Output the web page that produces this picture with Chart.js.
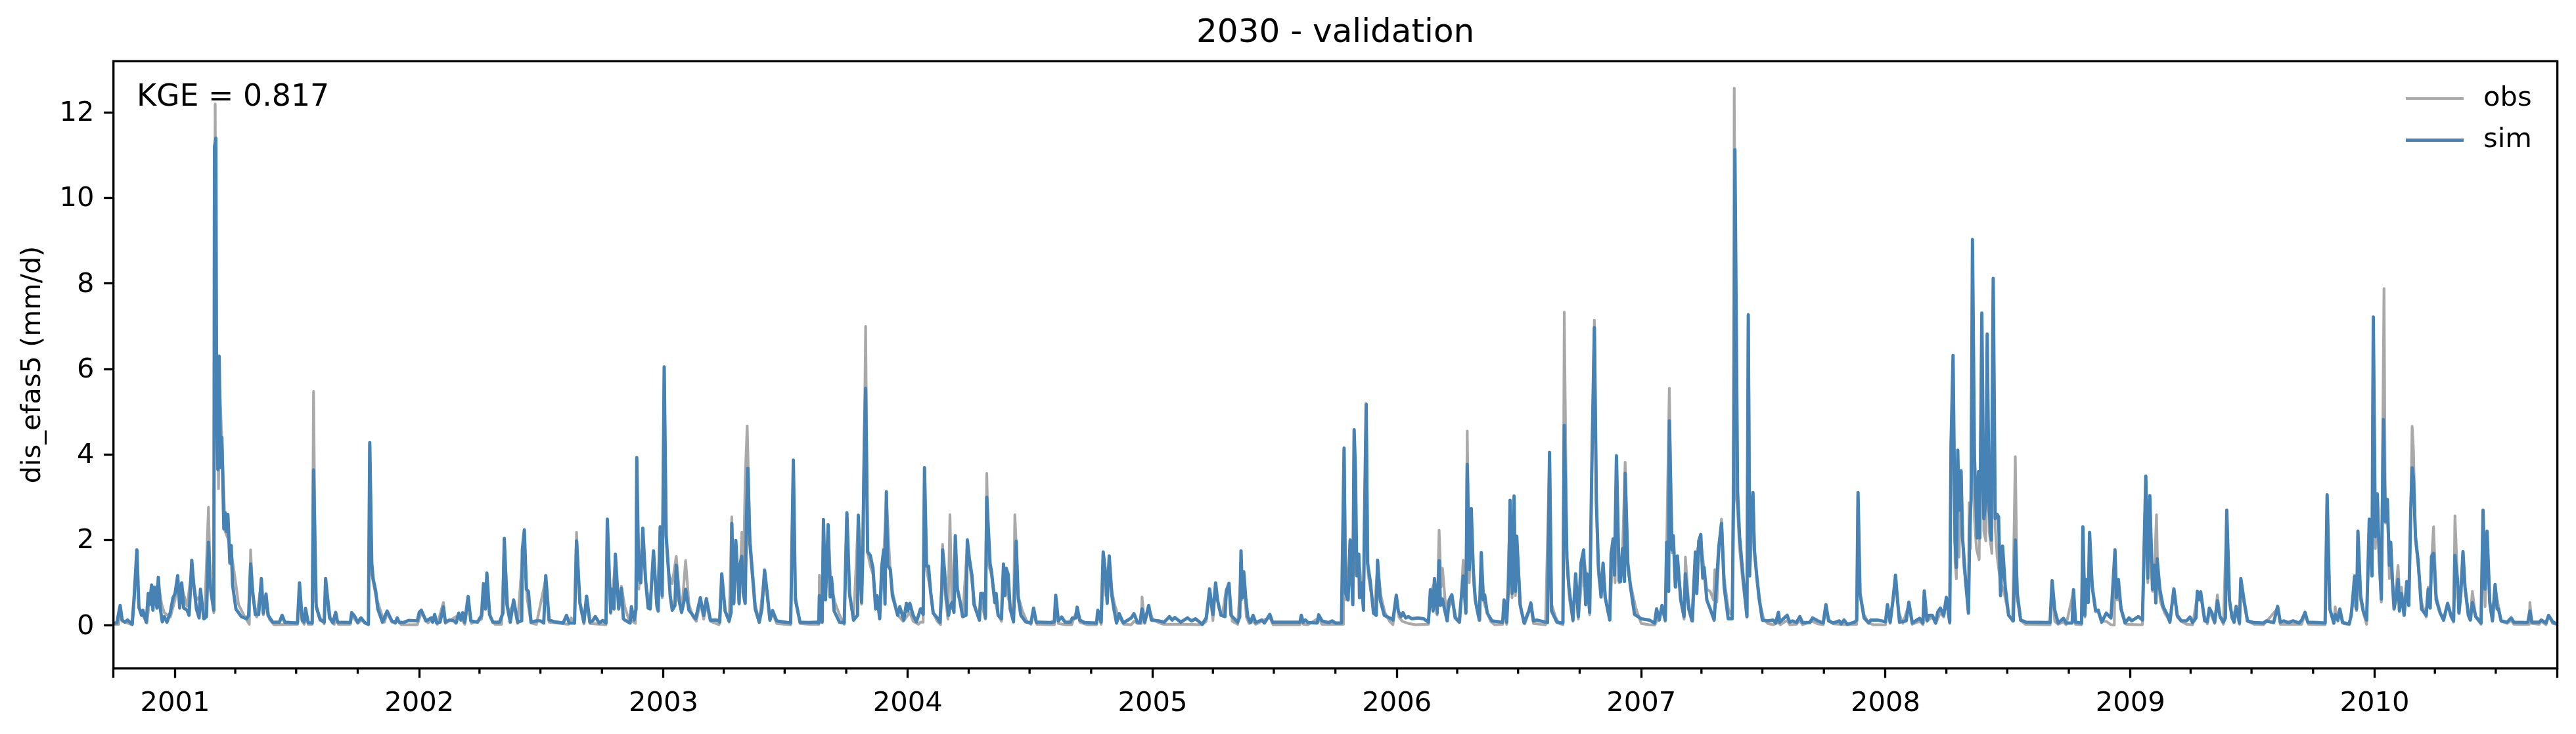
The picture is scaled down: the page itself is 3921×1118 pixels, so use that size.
<!DOCTYPE html>
<html>
<head>
<meta charset="utf-8">
<title>2030 - validation</title>
<script src="https://cdn.jsdelivr.net/npm/chart.js@4/dist/chart.umd.js"></script>
<style>
  html, body { margin: 0; padding: 0; background: #fff; }
  canvas { display: block; }
</style>
</head>
<body>
<canvas id="chart" width="3921" height="1118"></canvas>
<script>
// all days are counted from 2000-10-01
const yearDays = [92, 457, 822, 1187, 1553, 1918, 2283, 2648, 3014, 3379];
const yearLabels = ["2001", "2002", "2003", "2004", "2005", "2006", "2007", "2008", "2009", "2010"];
const quarterDays = [182, 273, 365, 547, 638, 730, 912, 1003, 1095, 1278, 1369, 1461, 1643, 1734, 1826,
  2008, 2099, 2191, 2373, 2464, 2556, 2739, 2830, 2922, 3104, 3195, 3287, 3469, 3560];
const yTicks = [0, 2, 4, 6, 8, 10, 12];

const simDays = [
  0, 5, 10, 13, 17, 21, 28, 31, 35, 38,
  42, 44, 49, 52, 54, 57, 59, 61, 65, 67,
  70, 73, 76, 80, 85, 89, 92, 96, 99, 102,
  105, 110, 113, 115, 117, 120, 124, 128, 130, 135,
  139, 142, 145, 150, 151, 153, 154, 156, 158, 160,
  162, 165, 167, 169, 171, 174, 176, 178, 183, 191,
  199, 202, 205, 208, 212, 217, 221, 224, 228, 231,
  238, 248, 252, 256, 275, 278, 282, 285, 287, 291,
  297, 299, 303, 309, 315, 317, 323, 328, 332, 335,
  354, 356, 360, 365, 370, 376, 381, 383, 386, 388,
  392, 395, 402, 409, 416, 421, 424, 427, 433, 441,
  454, 457, 460, 467, 475, 477, 480, 483, 488, 493,
  496, 502, 509, 512, 516, 519, 522, 525, 530, 534,
  544, 550, 553, 556, 558, 562, 567, 577, 582, 584,
  588, 593, 598, 604, 610, 611, 614, 617, 620, 624,
  632, 638, 643, 646, 651, 659, 672, 677, 681, 689,
  692, 697, 703, 707, 712, 716, 720, 726, 731, 736,
  738, 743, 745, 748, 750, 755, 759, 762, 764, 772,
  774, 778, 781, 782, 785, 788, 791, 795, 799, 802,
  807, 812, 814, 817, 820, 823, 826, 829, 832, 835,
  839, 841, 845, 849, 853, 855, 860, 870, 877, 882,
  886, 892, 902, 906, 909, 914, 920, 923, 924, 927,
  930, 935, 936, 939, 941, 944, 946, 948, 951, 955,
  959, 965, 969, 973, 977, 981, 985, 991, 1012, 1016,
  1019, 1026, 1038, 1050, 1054, 1055, 1059, 1061, 1064, 1068,
  1071, 1073, 1077, 1085, 1092, 1096, 1100, 1106, 1112, 1113,
  1118, 1120, 1122, 1124, 1127, 1131, 1135, 1139, 1141, 1145,
  1148, 1151, 1153, 1155, 1157, 1161, 1164, 1172, 1175, 1181,
  1185, 1187, 1190, 1195, 1200, 1206, 1210, 1212, 1215, 1218,
  1221, 1225, 1231, 1235, 1238, 1239, 1242, 1244, 1248, 1250,
  1253, 1256, 1258, 1261, 1265, 1269, 1274, 1276, 1279, 1283,
  1286, 1294, 1296, 1300, 1303, 1305, 1308, 1310, 1312, 1317,
  1319, 1322, 1327, 1330, 1332, 1334, 1337, 1340, 1345, 1349,
  1352, 1356, 1363, 1371, 1375, 1379, 1385, 1400, 1406, 1408,
  1412, 1417, 1422, 1430, 1433, 1438, 1440, 1444, 1451, 1469,
  1471, 1476, 1479, 1482, 1485, 1488, 1492, 1495, 1499, 1503,
  1509, 1521, 1525, 1530, 1534, 1537, 1541, 1547, 1551, 1562,
  1570, 1578, 1582, 1586, 1595, 1605, 1611, 1617, 1627, 1633,
  1638, 1643, 1647, 1650, 1655, 1661, 1663, 1667, 1670, 1680,
  1683, 1685, 1687, 1689, 1692, 1695, 1699, 1703, 1707, 1716,
  1720, 1728, 1732, 1773, 1775, 1778, 1781, 1785, 1799, 1801,
  1806, 1816, 1821, 1826, 1835, 1839, 1841, 1845, 1848, 1852,
  1854, 1856, 1858, 1861, 1862, 1865, 1868, 1869, 1872, 1874,
  1878, 1883, 1887, 1889, 1893, 1899, 1907, 1912, 1917, 1920,
  1924, 1927, 1931, 1935, 1940, 1949, 1958, 1965, 1968, 1972,
  1974, 1978, 1981, 1983, 1986, 1989, 1993, 1996, 2000, 2005,
  2011, 2017, 2021, 2023, 2026, 2029, 2032, 2035, 2041, 2044,
  2047, 2049, 2053, 2060, 2076, 2078, 2082, 2085, 2087, 2090,
  2093, 2095, 2097, 2102, 2108, 2115, 2118, 2122, 2127, 2143,
  2146, 2149, 2157, 2166, 2168, 2172, 2175, 2181, 2185, 2189,
  2193, 2197, 2200, 2202, 2206, 2209, 2213, 2216, 2219, 2223,
  2226, 2229, 2236, 2238, 2241, 2243, 2246, 2250, 2252, 2255,
  2258, 2259, 2263, 2267, 2273, 2283, 2295, 2303, 2306, 2310,
  2314, 2319, 2321, 2324, 2325, 2329, 2331, 2334, 2337, 2342,
  2347, 2349, 2354, 2359, 2364, 2366, 2369, 2372, 2375, 2377,
  2381, 2386, 2392, 2399, 2403, 2407, 2413, 2419, 2421, 2423,
  2427, 2430, 2436, 2441, 2443, 2445, 2447, 2450, 2452, 2456,
  2459, 2464, 2472, 2480, 2484, 2488, 2490, 2501, 2505, 2509,
  2515, 2520, 2524, 2535, 2539, 2547, 2555, 2559, 2563, 2570,
  2579, 2582, 2586, 2591, 2602, 2605, 2607, 2610, 2616, 2623,
  2626, 2636, 2648, 2651, 2655, 2659, 2663, 2666, 2669, 2679,
  2683, 2688, 2695, 2699, 2704, 2706, 2710, 2713, 2718, 2723,
  2726, 2730, 2735, 2739, 2744, 2746, 2749, 2752, 2754, 2756,
  2758, 2761, 2763, 2768, 2772, 2774, 2776, 2778, 2781, 2785,
  2787, 2789, 2792, 2795, 2798, 2800, 2803, 2806, 2809, 2812,
  2815, 2817, 2820, 2823, 2827, 2832, 2839, 2842, 2845, 2850,
  2858, 2894, 2897, 2901, 2906, 2914, 2918, 2927, 2929, 2932,
  2941, 2943, 2946, 2948, 2951, 2953, 2957, 2962, 2966, 2971,
  2978, 2985, 2991, 2993, 2996, 3000, 3006, 3012, 3016, 3026,
  3032, 3033, 3037, 3040, 3043, 3047, 3050, 3052, 3054, 3058,
  3063, 3069, 3073, 3079, 3084, 3090, 3098, 3103, 3107, 3112,
  3114, 3117, 3119, 3125, 3129, 3132, 3136, 3140, 3144, 3148,
  3153, 3156, 3158, 3162, 3166, 3169, 3172, 3177, 3179, 3184,
  3189, 3199, 3213, 3217, 3228, 3234, 3238, 3243, 3250, 3257,
  3266, 3270, 3275, 3279, 3293, 3305, 3308, 3312, 3318, 3320,
  3324, 3327, 3331, 3341, 3344, 3347, 3349, 3352, 3354, 3358,
  3362, 3367, 3371, 3375, 3377, 3380, 3383, 3386, 3389, 3392,
  3395, 3398, 3401, 3403, 3406, 3408, 3411, 3414, 3416, 3419,
  3423, 3427, 3430, 3433, 3435, 3437, 3440, 3444, 3449, 3456,
  3459, 3462, 3464, 3467, 3471, 3477, 3482, 3488, 3493, 3497,
  3499, 3503, 3505, 3508, 3511, 3514, 3519, 3522, 3525, 3530,
  3538, 3541, 3544, 3547, 3551, 3555, 3559, 3562, 3564, 3568,
  3577, 3583, 3587, 3605, 3608, 3611, 3614, 3625, 3628, 3635,
  3639, 3645, 3652
];
const simValues = [
  .06, .06, .47, .13, .08, .13, .03, .7, 1.77, .44,
  .24, .36, .08, .75, .49, .95, .36, .9, .41, 1.13,
  .39, .09, .21, .08, .31, .65, .75, 1.17, .41, 1.0,
  .41, .36, .24, .85, 1.53, .95, .39, .18, .85, .16,
  .21, 1.95, .9, .36, 11.2, 11.4, 6, 3.65, 6.3, 3.7,
  4.4, 2.26, 2.64, 2.2, 2.6, 1.46, 1.87, .95, .39, .21,
  .16, .24, 1.44, .8, .26, .26, 1.1, .29, .74, .24,
  .08, .08, .24, .08, .06, 1, .13, .08, .4, .07,
  .06, 3.64, .44, .13, .08, 1.1, .18, .06, .31, .08,
  .07, .3, .23, .08, .18, .06, .03, 4.28, 1.46, 1.1,
  .8, .39, .08, .34, .11, .06, .18, .08, .07, .12,
  .11, .31, .36, .11, .18, .08, .26, .06, .08, .44,
  .08, .13, .11, .06, .29, .13, .3, .08, .68, .11,
  .08, .24, .98, .39, 1.23, .26, .08, .08, .29, 2.04,
  .49, .08, .6, .08, .11, 1.77, 2.24, .85, .8, .08,
  .11, .11, .06, 1.17, .13, .09, .06, .24, .06, .06,
  1.98, .54, .08, .69, .08, .11, .21, .06, .12, .06,
  2.49, .31, .85, .39, 1.67, .39, .87, .16, .13, .06,
  .44, .13, .39, 3.93, 1.1, 1.0, 2.28, 1.1, .41, .39,
  1.75, .49, .34, 2.31, .7, 6.05, 2.1, 1.39, .7, .36,
  .47, 1.41, .6, .31, .6, .85, .36, .16, .65, .24,
  .63, .13, .13, .08, 1.21, .34, .11, .31, 2.39, .52,
  1.99, .52, 1.39, 1.62, .77, .52, 2.5, 3.68, 1.93, 1.16,
  .39, .08, .39, 1.3, .75, .13, .35, .11, .06, 3.87,
  .6, .08, .07, .08, .06, .7, .08, 2.48, .6, 2.36,
  .67, 1.13, .34, .08, .06, 2.64, .75, .13, .24, 2.58,
  .54, 1.8, 4.25, 5.55, 1.72, 1.64, 1.34, .39, .7, .16,
  1.36, 1.77, .5, 3.13, 1.41, 1.31, .7, .24, .44, .13,
  .52, .34, .52, .24, .09, .39, .26, 3.69, 1.39, 1.39,
  .8, .29, .18, .08, .9, 1.77, 1.28, .75, .24, .44,
  .54, .31, 2.1, .85, .57, .21, .24, 2.0, 1.57, 1.16,
  .49, .13, .75, .75, .18, 3.0, 2.08, 1.44, 1.28, .54,
  .75, .24, .16, 1.44, .7, 1.34, 1.2, .39, .09, 1.97,
  .65, .24, .09, .06, .41, .08, .08, .07, .09, .71,
  .11, .2, .08, .08, .18, .18, .43, .13, .07, .06,
  .36, .08, 1.72, 1.31, .52, 1.63, .7, .39, .06, .28,
  .06, .18, .28, .08, .07, .39, .08, .47, .13, .11,
  .08, .21, .13, .19, .08, .18, .11, .16, .03, .18,
  .86, .26, 1.0, .59, .24, .21, .8, .99, .24, .08,
  .2, 1.75, .65, 1.26, .65, .21, .07, .24, .07, .13,
  .06, .26, .08, .08, .24, .08, .13, .07, .06, .25,
  .11, .07, .11, .06, .06, 4.15, .77, .6, 2.0, .49,
  4.58, 3.59, 1.16, 1.67, .65, 1.0, .36, 1.93, 5.18, 1.46,
  1.05, .29, .24, 1.53, .6, .24, .18, .13, .71, .34,
  .21, .3, .18, .21, .16, .18, .16, .08, .84, .34,
  1.1, .29, 1.52, .47, .62, .39, .11, .6, .72, .18,
  .08, 1.16, .29, 3.77, 1.31, 2.74, 1.31, .6, .13, 1.71,
  .6, .72, .29, .11, .08, .6, .08, 1.05, 2.93, .75,
  3.03, .8, 2.09, .49, .06, .34, .53, .11, .13, .07,
  4.05, .34, .08, .06, 4.68, 1.57, .9, .13, 1.21, .21,
  1.46, 1.77, .49, 1.21, .31, 3.56, 6.97, 2.92, 1.41, .67,
  1.46, .67, .13, 1.67, 2.03, 1.18, 3.97, 1.05, 1.03, 1.8,
  1.03, 3.56, 1.46, .9, .26, .16, .13, .06, .39, .13,
  .47, .13, 1.95, .8, 4.79, 1.77, 2.1, .9, 1.63, .6,
  .21, 1.21, .39, .11, 1.72, .75, 1.98, 2.13, 1.11, 1.36,
  .6, .39, .13, 1.85, 2.39, .9, .16, .16, 3.08, 11.13,
  3.13, 2.08, 1.0, .21, 7.27, 1.16, 2.7, 3.11, 1.77, 1.1,
  .65, .13, .11, .13, .06, .31, .08, .24, .08, .11,
  .07, .21, .07, .07, .18, .11, .06, .49, .11, .06,
  .11, .04, .13, .03, .08, .13, 3.11, .75, .18, .06,
  .13, .13, .09, .49, .08, .57, 1.18, .59, .08, .11,
  .55, .06, .13, .17, .06, .81, .11, .24, .24, .06,
  .31, .41, .24, .66, .08, 4.25, 6.32, 2.0, 1.36, 4.1,
  2.7, 3.62, 2.08, 1.0, .29, 2.3, 2.95, 9.03, 3.92, 2.05,
  3.6, 2.05, 7.31, 2.5, 2.9, 6.82, 2.7, 2.0, 8.12, 2.5,
  2.6, 2.54, .7, 1.86, .9, .24, .11, 2.0, .75, .13,
  .08, .07, 1.05, .36, .06, .17, .06, .06, .84, .08,
  .06, 2.31, .24, 1.08, .54, 2.18, .9, .34, .36, .08,
  .29, .18, 1.77, .65, 1.08, .39, .06, .18, .11, .21,
  .13, .8, 3.5, 1.11, 3.04, .85, 1.41, .53, 1.56, .85,
  .44, .26, .08, .86, .24, .11, .11, .2, .07, .18,
  .8, .6, .79, .11, .09, .41, .29, .08, .58, .21,
  .08, .18, 2.7, .6, .18, .08, .45, .06, 1.1, .57,
  .11, .07, .06, .11, .07, .45, .08, .11, .07, .11,
  .06, .13, .31, .08, .07, .06, 3.06, .39, .06, .26,
  .13, .38, .07, .04, .24, .77, 1.16, .39, 2.21, .7,
  .34, .13, 2.49, 1.16, 7.22, 2.08, 3.08, 1.56, .62, 4.82,
  2.44, 2.95, 1.41, 1.95, .9, .39, .65, 1.08, .34, .75,
  .24, 1.03, .47, 2.72, 3.69, 3.46, 2.08, 1.51, .39, .24,
  .85, .41, 1.62, 1.69, .6, .29, .13, .52, .24, .11,
  1.64, 1.03, .29, .8, 1.73, .9, .24, .13, .54, .21,
  .06, 2.7, .85, 2.21, .54, .11, .96, .39, .39, .11,
  .08, .18, .08, .07, .08, .34, .08, .08, .13, .06,
  .24, .09, .03
];

const obsDays = [
  0, 8, 10, 13, 28, 31, 35, 38, 50, 54,
  57, 62, 67, 72, 76, 85, 92, 96, 102, 110,
  117, 124, 130, 136, 142, 145, 150, 152, 154, 157,
  159, 163, 167, 172, 176, 180, 187, 195, 203, 205,
  208, 214, 221, 224, 228, 233, 240, 275, 278, 282,
  285, 287, 291, 297, 299, 302, 308, 315, 317, 324,
  330, 332, 336, 354, 356, 365, 370, 381, 383, 386,
  392, 398, 405, 409, 416, 424, 430, 454, 460, 470,
  480, 484, 493, 496, 516, 525, 530, 535, 550, 558,
  563, 570, 580, 584, 590, 598, 604, 611, 614, 618,
  624, 632, 646, 651, 680, 684, 689, 692, 697, 703,
  707, 712, 736, 738, 743, 750, 755, 759, 764, 770,
  780, 782, 785, 791, 796, 802, 807, 812, 817, 820,
  823, 826, 830, 835, 841, 845, 849, 855, 860, 866,
  871, 877, 882, 886, 892, 905, 909, 914, 920, 924,
  927, 930, 935, 939, 941, 944, 947, 951, 955, 959,
  965, 973, 981, 985, 991, 1012, 1016, 1019, 1026, 1040,
  1054, 1055, 1059, 1061, 1064, 1068, 1072, 1078, 1085, 1092,
  1096, 1100, 1106, 1113, 1118, 1122, 1124, 1127, 1131, 1135,
  1139, 1141, 1145, 1151, 1155, 1161, 1164, 1172, 1180, 1190,
  1195, 1203, 1206, 1210, 1212, 1215, 1221, 1225, 1231, 1236,
  1239, 1243, 1247, 1250, 1253, 1258, 1261, 1265, 1269, 1276,
  1279, 1283, 1287, 1294, 1296, 1303, 1305, 1308, 1312, 1317,
  1322, 1327, 1330, 1334, 1337, 1340, 1345, 1347, 1349, 1352,
  1358, 1365, 1371, 1375, 1380, 1406, 1408, 1412, 1422, 1432,
  1440, 1444, 1455, 1469, 1471, 1476, 1479, 1483, 1488, 1492,
  1496, 1500, 1505, 1510, 1521, 1525, 1530, 1536, 1537, 1541,
  1547, 1553, 1558, 1565, 1570, 1600, 1627, 1633, 1638, 1643,
  1647, 1652, 1657, 1663, 1667, 1672, 1680, 1684, 1686, 1689,
  1693, 1697, 1703, 1707, 1728, 1733, 1773, 1775, 1778, 1785,
  1801, 1806, 1838, 1839, 1842, 1848, 1852, 1854, 1857, 1861,
  1865, 1868, 1872, 1875, 1879, 1884, 1889, 1894, 1900, 1907,
  1912, 1917, 1921, 1926, 1935, 1945, 1965, 1968, 1974, 1978,
  1981, 1984, 1986, 1990, 1994, 2000, 2006, 2012, 2017, 2021,
  2023, 2026, 2029, 2033, 2037, 2042, 2044, 2048, 2053, 2058,
  2064, 2076, 2078, 2082, 2087, 2090, 2093, 2095, 2097, 2103,
  2109, 2118, 2122, 2140, 2146, 2149, 2155, 2160, 2166, 2168,
  2172, 2176, 2181, 2185, 2189, 2197, 2202, 2206, 2209, 2213,
  2216, 2219, 2223, 2226, 2230, 2236, 2241, 2244, 2246, 2250,
  2255, 2259, 2263, 2268, 2275, 2283, 2295, 2303, 2306, 2314,
  2319, 2321, 2325, 2329, 2331, 2335, 2337, 2343, 2347, 2349,
  2354, 2360, 2364, 2369, 2372, 2377, 2381, 2386, 2391, 2393,
  2396, 2399, 2403, 2407, 2413, 2419, 2421, 2422, 2425, 2427,
  2430, 2435, 2441, 2443, 2446, 2450, 2453, 2457, 2461, 2466,
  2472, 2480, 2488, 2491, 2501, 2505, 2515, 2520, 2524, 2539,
  2547, 2555, 2559, 2563, 2570, 2590, 2605, 2607, 2610, 2616,
  2623, 2630, 2648, 2651, 2655, 2663, 2668, 2674, 2683, 2688,
  2699, 2704, 2706, 2710, 2718, 2723, 2730, 2735, 2739, 2744,
  2746, 2749, 2752, 2754, 2756, 2758, 2761, 2765, 2770, 2772,
  2773, 2775, 2778, 2781, 2784, 2788, 2792, 2795, 2798, 2800,
  2803, 2807, 2809, 2812, 2815, 2820, 2825, 2832, 2838, 2842,
  2845, 2850, 2857, 2894, 2897, 2901, 2906, 2914, 2918, 2929,
  2932, 2941, 2943, 2946, 2948, 2951, 2953, 2957, 2962, 2966,
  2971, 2978, 2985, 2990, 2991, 2994, 2997, 3002, 3008, 3025,
  3032, 3037, 3040, 3043, 3047, 3050, 3053, 3055, 3059, 3065,
  3073, 3079, 3084, 3090, 3098, 3107, 3114, 3119, 3123, 3129,
  3132, 3140, 3144, 3148, 3153, 3158, 3162, 3166, 3172, 3177,
  3179, 3184, 3189, 3199, 3213, 3234, 3238, 3270, 3275, 3280,
  3305, 3308, 3312, 3318, 3320, 3324, 3327, 3332, 3341, 3347,
  3352, 3354, 3358, 3362, 3367, 3371, 3375, 3377, 3380, 3383,
  3386, 3389, 3393, 3395, 3398, 3401, 3403, 3406, 3409, 3414,
  3417, 3419, 3423, 3427, 3430, 3433, 3435, 3437, 3440, 3444,
  3449, 3456, 3459, 3462, 3464, 3467, 3471, 3477, 3482, 3488,
  3493, 3497, 3499, 3503, 3505, 3511, 3514, 3519, 3522, 3525,
  3530, 3538, 3541, 3544, 3547, 3551, 3555, 3559, 3564, 3568,
  3577, 3583, 3587, 3605, 3610, 3611, 3614, 3625, 3628, 3635,
  3639, 3645, 3652
];
const obsValues = [
  .03, .03, .4, .1, .02, .55, 1.5, .4, .06, .6,
  .8, .8, 1, .5, .3, .2, .6, 1, .9, .45,
  1.3, .6, .7, .16, 2.77, .8, .3, 12.2, 6, 3.2,
  5.5, 3.9, 2.2, 2, 1.7, 1.3, .49, .24, .03, 1.77,
  .7, .2, 1, .25, .65, .15, .02, .03, .9, .1,
  .03, .3, .03, .03, 5.48, .55, .2, .04, 1, .2,
  .03, .25, .03, .03, .25, .05, .12, .02, 4.2, 1.2,
  .7, .4, .08, .3, .08, .12, .02, .02, .3, .06,
  .2, .03, .54, .05, .25, .03, .6, .05, .15, 1.1,
  .2, .03, .03, 1.9, .3, .5, .05, 1.6, 2.1, .65,
  .06, .03, 1.1, .08, .03, .18, .05, 2.18, .5, .04,
  .6, .05, .02, 2.4, .28, 1.5, .5, .92, .45, .15,
  .05, 3.85, .85, 2.1, .9, .5, 1.6, .4, 2.2, .65,
  5.95, 2, 1.2, .98, 1.62, .9, .3, 1.52, .5, .2,
  .1, .55, .15, .5, .1, .02, 1.1, .35, .08, 2.54,
  .5, 1.8, .5, 2.18, .8, 3.41, 4.67, 2.1, 1.3, .5,
  .1, 1.2, .12, .3, .05, .02, 3.8, .7, .05, .03,
  .03, 1.18, .1, 2.4, .65, 2.25, 1, .55, .25, .03,
  2.55, .7, .12, 2.5, .5, 4.2, 7, 1.7, 1.4, 1.2,
  .6, .7, .2, 1.6, 3, 1.2, .8, .25, .1, .3,
  .1, .03, .08, .08, 3.6, 1.3, .85, .3, .1, .02,
  1.9, .7, .15, 2.59, .4, 2, .9, .6, .2, 1.9,
  1.5, 1, .5, .12, .6, .15, 3.56, 1.4, 1.2, .6,
  .25, .1, 1.3, 1.2, .65, .5, .08, 2.59, 1.9, .7,
  .35, .1, .03, .35, .03, .02, .65, .05, .02, .02,
  .38, .08, .02, .02, .3, .03, 1.6, .7, 1.5, .8,
  .5, .3, .15, .03, .02, .1, .05, .05, .67, .05,
  .4, .15, .1, .05, .03, .03, .02, .1, .8, .12,
  .9, .4, .25, .85, .9, .1, .03, 1, .6, 1.1,
  .2, .05, .1, .03, .2, .02, .02, .2, .03, .02,
  .18, .03, .03, 4.1, .6, 1.9, .5, 4.5, 1.2, 1.6,
  .9, .4, 5.1, 1.2, .8, .3, 1.4, .7, .3, .1,
  .02, .65, .2, .1, .05, .02, .03, .75, 1, .25,
  2.23, .9, 1.34, .6, .35, .6, .2, .08, 1.53, .3,
  4.55, 1, 2.6, .95, .4, .12, 1.6, .55, .3, .1,
  .02, .03, .55, .03, 2.8, .65, 2.9, .7, 2, .4,
  .04, .45, .05, .02, 4, .5, .2, .05, .02, 7.33,
  1.4, .6, .1, 1.1, .15, 1.6, 1.1, .25, 3.4, 7.14,
  2.8, 1.2, .7, 1.4, .6, .15, 1.9, 1, 3.85, 1,
  1.7, 3.82, 1.3, .9, .4, .05, .02, .01, .1, .4,
  .1, 1.8, 5.55, 1.7, 2, .9, 1.5, .55, .15, 1.6,
  .5, .1, 1.6, 1.9, 2, 1.3, .85, .8, .6, 1.31,
  .55, 1.7, 2.49, 1.1, .4, .2, 4.79, 12.57, 3, 2.7,
  1.8, 1, .2, 7.2, 1.4, 3, 1.6, 1, .5, .15,
  .05, .02, .07, .02, .12, .02, .03, .12, .02, .1,
  .04, .02, .45, .15, .04, .02, .03, 3, .7, .25,
  .06, .02, .02, .4, .05, 1.1, .3, .05, .5, .03,
  .1, .02, .75, .1, .2, .05, .3, .2, .6, .05,
  4.2, 6.2, 1.5, 1.1, 3.9, 1.6, 3.5, 1.4, .7, .3,
  2.87, 1.8, 8.5, 2.5, 1.8, 1.54, 7.1, 2.2, 1.98, 6.5,
  2.2, 1.69, 7.9, 2.3, 1.6, 1, .8, .25, .1, 3.95,
  .6, .12, .03, .02, 1, .1, .03, .08, .02, .8,
  .03, .02, 2.2, .2, .9, .6, 2.1, .95, .4, .3,
  .1, .1, .02, .01, 1.7, .6, .65, .3, .03, .02,
  .02, 3.4, 1, 2.9, .8, 1.3, 2.59, 1.1, .55, .3,
  .1, .8, .2, .1, .03, .02, .7, .75, .3, .04,
  .35, .05, .72, .2, .03, 2.65, .6, .2, .4, .03,
  1, .5, .1, .03, .02, .4, .03, .03, .28, .03,
  .02, 3, .4, .05, .44, .1, .4, .05, .02, .6,
  .35, 2.1, .6, .3, .03, 2.4, 1.2, 7.1, 1.8, 2.9,
  1.4, .55, 7.88, 2.4, 2.8, 1.1, 1.8, 1, .5, 1.41,
  .5, .9, .25, .95, .5, 2.6, 4.66, 4.1, 2, 1.4,
  .55, .2, .9, .5, 1.5, 2.31, .7, .3, .12, .5,
  .2, .08, 2.57, 1, .3, 1.6, .9, .3, .2, .8,
  .2, .03, 2.6, .44, 2.1, .6, .1, .9, .45, .1,
  .05, .12, .03, .03, .03, .54, .05, .03, .1, .02,
  .24, .05, .03
];

const obsColor = "#a9a9a9";
const simColor = "#4682b4";
const fontFamily = "'DejaVu Sans'";
const tickFont = { family: fontFamily, size: 41.67 };
const spine = 3.33;

const toPoints = (days, values) => days.map((d, i) => ({ x: d, y: values[i] }));

// frame, short quarter ticks, score text and the legend
const decorations = {
  id: "decorations",
  afterDraw(chart) {
    const { ctx, chartArea: a, scales } = chart;
    ctx.save();
    ctx.strokeStyle = "#000";
    ctx.lineWidth = spine;
    ctx.beginPath();
    quarterDays.forEach(d => {
      const px = scales.x.getPixelForValue(d);
      ctx.moveTo(px, a.bottom);
      ctx.lineTo(px, a.bottom + 8.33);
    });
    ctx.stroke();
    ctx.strokeRect(a.left, a.top, a.right - a.left, a.bottom - a.top);

    ctx.fillStyle = "#000";
    ctx.textBaseline = "middle";
    ctx.textAlign = "left";
    ctx.font = "45.83px " + fontFamily;
    ctx.fillText("KGE = 0.817", 208, 149);

    ctx.font = "41.67px " + fontFamily;
    chart.data.datasets.forEach((ds, i) => {
      const y = 150 + i * 63.6;
      ctx.strokeStyle = ds.borderColor;
      ctx.lineWidth = ds.borderWidth;
      ctx.beginPath();
      ctx.moveTo(3662, y);
      ctx.lineTo(3750, y);
      ctx.stroke();
      ctx.fillText(ds.label, 3780, y);
    });
    ctx.restore();
  }
};

new Chart(document.getElementById("chart"), {
  type: "line",
  data: {
    datasets: [
      { label: "obs", data: toPoints(obsDays, obsValues), borderColor: obsColor, borderWidth: 4.17, order: 1 },
      { label: "sim", data: toPoints(simDays, simValues), borderColor: simColor, borderWidth: 5, order: 0 }
    ]
  },
  options: {
    responsive: false,
    devicePixelRatio: 1,
    animation: false,
    layout: { autoPadding: false, padding: { left: 0, right: 28.4, top: 0, bottom: 0 } },
    elements: {
      point: { radius: 0 },
      line: { tension: 0, fill: false, borderJoinStyle: "round", borderCapStyle: "round" }
    },
    plugins: {
      legend: { display: false },
      tooltip: { enabled: false },
      title: {
        display: true,
        text: "2030 - validation",
        color: "#000",
        fullSize: false,
        font: { family: fontFamily, size: 50, weight: "normal", lineHeight: 1.2 },
        padding: { top: 21.5, bottom: 11.7 }
      }
    },
    scales: {
      x: {
        type: "linear",
        min: 0,
        max: 3652,
        afterBuildTicks: axis => {
          axis.ticks = [0, ...yearDays, 3652].map(v => ({ value: v }));
        },
        afterFit: scale => { scale.height = 100; },
        grid: { drawOnChartArea: false, tickLength: 14.6, tickWidth: spine, tickColor: "#000" },
        border: { display: false },
        ticks: {
          color: "#000",
          font: tickFont,
          padding: 14.6,
          autoSkip: false,
          maxRotation: 0,
          callback: value => {
            const i = yearDays.indexOf(value);
            return i >= 0 ? yearLabels[i] : "";
          }
        }
      },
      y: {
        min: -1,
        max: 13.2,
        afterBuildTicks: axis => {
          axis.ticks = yTicks.map(v => ({ value: v }));
        },
        afterFit: scale => { scale.width = 172.7; },
        grid: { drawOnChartArea: false, tickLength: 14.6, tickWidth: spine, tickColor: "#000" },
        border: { display: false },
        ticks: { color: "#000", font: tickFont, padding: 14.6, autoSkip: false, labelOffset: 2 },
        title: {
          display: true,
          text: "dis_efas5 (mm/d)",
          color: "#000",
          font: { family: fontFamily, size: 41.67, lineHeight: 1.2 },
          padding: { top: 25, bottom: 0 }
        }
      }
    }
  },
  plugins: [decorations]
});
</script>
</body>
</html>
